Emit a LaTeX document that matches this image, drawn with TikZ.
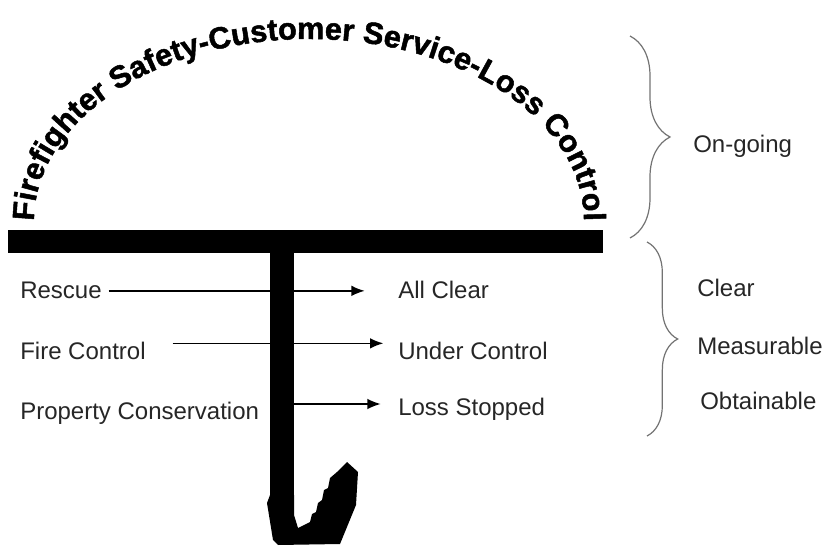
\documentclass[tikz,border=0pt]{standalone}
\usepackage{fontspec}
\setmainfont{Liberation Sans}
\newfontfamily\arcfont{Liberation Sans}[BoldFeatures={FakeBold=1.6}]
\usetikzlibrary{arrows.meta,decorations.text,decorations.pathreplacing}

\begin{document}
\begin{tikzpicture}[x=0.75pt,y=0.75pt,yscale=-1,xscale=1,
  lbl/.style={font=\fontsize{18}{20}\selectfont, text=black!85, inner sep=0pt, anchor=base west},
  flow/.style={-{Latex[length=10pt,width=8pt]}, line width=1.1pt},
  curly/.style={draw=black!55, line width=0.9pt, decorate, decoration={brace, amplitude=#1}}]
\useasboundingbox (0,0) rectangle (827,548);

%Curved Text
\path [decorate, decoration={text along path, text align={fit to path},
  text={|\arcfont\fontsize{23}{23}\selectfont\bfseries|Firefighter Safety-Customer Service-Loss Control}}]
  (34,221) arc [start angle=180, end angle=360, x radius=275, y radius=182];

%Shape: Rectangle (canopy)
\fill (8,230) rectangle (603,253);
%Shape: Rectangle (handle)
\fill (270,250) rectangle (294,496);
%Shape: Polygon (hook)
\fill (270,495) -- (267,503) -- (273,540) -- (278,545) -- (340,544) -- (356,505) -- (358,472)
  -- (347,462) -- (337,472) -- (330,478) -- (328,488) -- (324,490) -- (322,500) -- (318,503)
  -- (316,512) -- (312,514) -- (310,522) -- (298,528) -- (294,515) -- (294,495) -- cycle ;
\coordinate (grip) at (294,404);

% Text Node
\node [lbl] (rescue) at (20,299) {Rescue};
% Text Node
\node [lbl] (firectl) at (20,359) {Fire Control};
% Text Node
\node [lbl] (propcons) at (20,419) {Property Conservation};
% Text Node
\node [lbl] (allclear) at (398,299) {All Clear};
% Text Node
\node [lbl] (underctl) at (398,359) {Under Control};
% Text Node
\node [lbl] (lossstop) at (398,415) {Loss Stopped};
% Text Node
\node [lbl] (ongoing) at (693,153) {On-going};
% Text Node
\node [lbl] (clear) at (697,297) {Clear};
% Text Node
\node [lbl] (measur) at (697,355) {Measurable};
% Text Node
\node [lbl] (obtain) at (700,409) {Obtainable};

%Straight Lines
\draw [flow, shorten <=5pt, shorten >=25pt] (rescue.east) -- (rescue.east -| allclear.west) ;
%Straight Lines
\draw [flow, shorten <=20pt, shorten >=11pt] ([yshift=1.5pt]firectl.north east) -- ([yshift=1.5pt]firectl.north east -| underctl.west) ;
%Straight Lines
\draw [flow, shorten >=13pt] (grip) -- (grip -| lossstop.west) ;

%Braces
\draw [curly=30pt] (630,36) -- (630,238) ;
\draw [curly=23pt] (647,242) -- (647,436) ;
\end{tikzpicture}
\end{document}
